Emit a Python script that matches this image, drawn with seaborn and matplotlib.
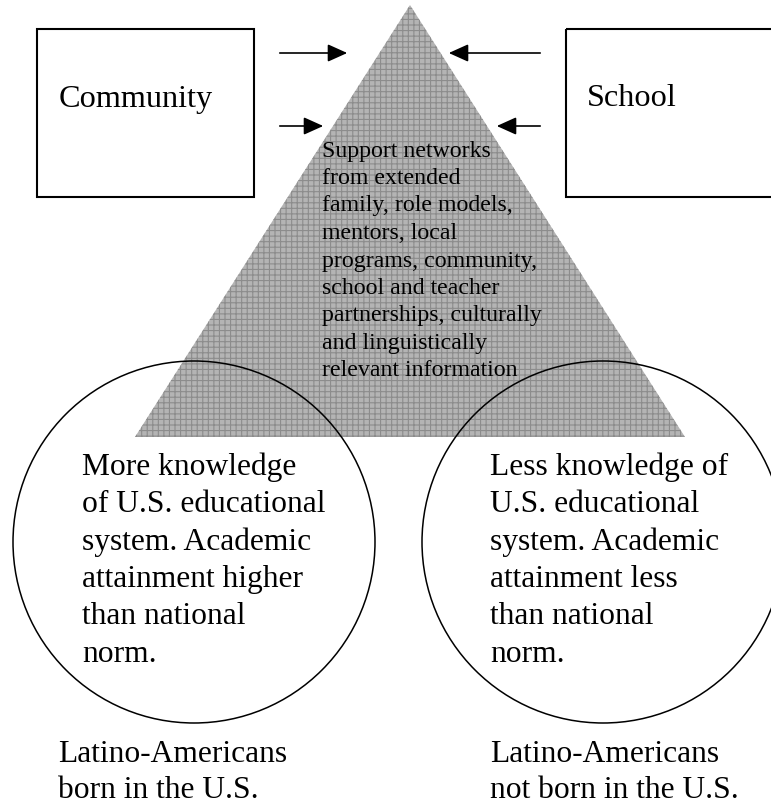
import matplotlib
matplotlib.use("Agg")
import matplotlib.pyplot as plt
from matplotlib.patches import Polygon, Rectangle, Circle
import seaborn as sns

# Text content of the diagram
box_labels = ["Community", "School"]
pyramid_text = ["Support networks", "from extended", "family, role models,",
                "mentors, local", "programs, community,", "school and teacher",
                "partnerships, culturally", "and linguistically",
                "relevant information"]
circle_texts = [
    ["More knowledge", "of U.S. educational", "system. Academic",
     "attainment higher", "than national", "norm."],
    ["Less knowledge of", "U.S. educational", "system. Academic",
     "attainment less", "than national", "norm."],
]
group_labels = [["Latino-Americans", "born in the U.S."],
                ["Latino-Americans", "not born in the U.S."]]

sns.set_theme(style="white")
plt.rcParams['font.family'] = ['Liberation Serif', 'DejaVu Serif']
plt.rcParams['text.color'] = 'black'
plt.rcParams['hatch.color'] = '#8c8c8c'
plt.rcParams['hatch.linewidth'] = 0.8

fig = plt.figure(figsize=(7.71, 8.06), dpi=100)
ax = fig.add_axes([0, 0, 1, 1])
ax.set_xlim(0, 771)
ax.set_ylim(806, 0)
ax.set_axis_off()

# pyramid
tri = Polygon([(410, 5), (135, 437), (685, 437)], closed=True,
              facecolor="#b4b4b4", edgecolor="#8c8c8c", linewidth=0,
              hatch="+++", zorder=1)
ax.add_patch(tri)

# boxes
ax.add_patch(Rectangle((37, 29), 217, 168, fill=False, edgecolor="black", lw=1.5, zorder=3))
ax.add_patch(Rectangle((566, 29), 230, 168, fill=False, edgecolor="black", lw=1.5, zorder=3))
ax.text(59, 99, box_labels[0], fontsize=23.2, va="center", ha="left", zorder=4)
ax.text(587, 99, box_labels[1], fontsize=23.2, va="center", ha="left", zorder=4)

# arrows
arrow_kw = dict(arrowstyle="-|>,head_length=1.0,head_width=0.45", color="black", lw=1.2)
for y, x0, x1 in [(53, 277, 350), (126, 277, 326), (53, 543, 446), (126, 543, 494)]:
    ax.annotate("", xy=(x1, y), xytext=(x0, y), arrowprops=arrow_kw, zorder=4)

# pyramid text
for i, line in enumerate(pyramid_text):
    ax.text(322, 151 + i * 27.5, line, fontsize=17.2, va="center", ha="left", zorder=4)

# circles
for cx in [194, 603]:
    ax.add_patch(Circle((cx, 542), 181, fill=False, edgecolor="black", lw=1.1, zorder=3))

for tx, lines in zip([82, 490], circle_texts):
    for i, line in enumerate(lines):
        ax.text(tx, 467 + i * 37.5, line, fontsize=22.7, va="center", ha="left", zorder=4)

for tx, lines in zip([58, 490], group_labels):
    for i, line in enumerate(lines):
        ax.text(tx, 754 + i * 36, line, fontsize=22.7, va="center", ha="left", zorder=4)

fig.savefig("out.png", dpi=100, facecolor="white")
